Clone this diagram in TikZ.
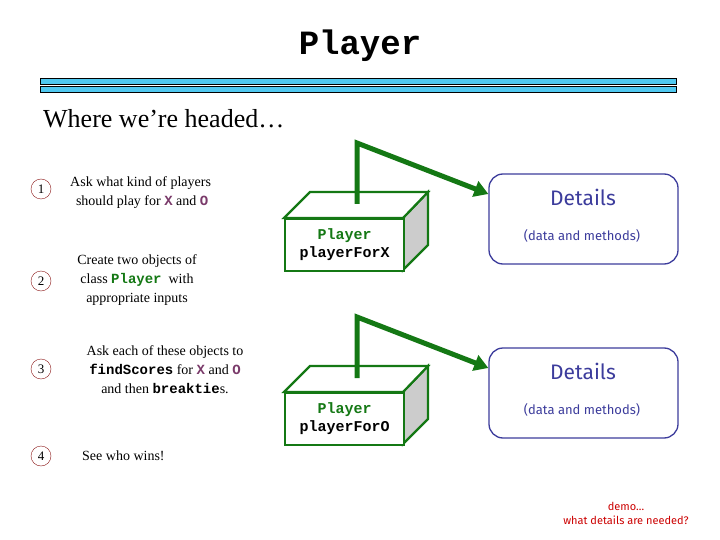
\documentclass[tikz,border=0pt]{standalone}
\usepackage{fontspec}
\setmainfont{Liberation Serif}
\setmonofont{Liberation Mono}
\newfontfamily\comic{Fira Sans}
\usetikzlibrary{arrows.meta}
\definecolor{barc}{HTML}{4FC8F0}
\definecolor{grn}{HTML}{147814}
\definecolor{blu}{HTML}{3C3C9C}
\definecolor{pur}{HTML}{7A3A6A}
\definecolor{circ}{HTML}{8C1818}
\newcommand{\XX}{\textcolor{pur}{\texttt{\textbf{X}}}}
\newcommand{\OO}{\textcolor{pur}{\texttt{\textbf{O}}}}
\tikzset{
 bar/.style={draw=black,fill=barc,line width=0.8pt},
 num/.style={circle,draw=circ,minimum size=20pt,inner sep=0pt,font=\fontsize{13}{13}\selectfont},
 txt/.style={font=\fontsize{14}{19}\selectfont,align=center,inner sep=0pt},
 face/.style={draw=grn,line width=2.2pt,line join=miter},
 link/.style={draw=grn,line width=5pt,-{Triangle[length=14pt,width=16pt]}},
 det/.style={draw=blu,line width=1.3pt,rounded corners=14pt,minimum width=189pt,minimum height=90pt},
}
\begin{document}
\begin{tikzpicture}[x=1pt,y=-1pt]
\useasboundingbox (0,0) rectangle (720,540);
\fill[white] (0,0) rectangle (720,540);
\node (title) at (360,46) {\fontsize{34}{34}\selectfont\ttfamily\bfseries Player};
\draw[bar] (40,78) rectangle (676,84);
\draw[bar] (40,86) rectangle (676,92);
\node[anchor=west,inner sep=0pt] (sub) at (43,119) {\fontsize{26}{26}\selectfont Where we’re headed…};
\node[num] (n1) at (41,189) {1};
\node[num] (n2) at (41,281) {2};
\node[num] (n3) at (41,369) {3};
\node[num] (n4) at (41,456) {4};
\node[txt,align=left,anchor=west] (t1) at (70,193) {Ask what kind of players\\\ \,should play for \XX\ and \OO};
\node[txt] (t2) at (137,280) {Create two objects of\\class \textcolor{grn}{\texttt{\textbf{Player}}} \ with\\appropriate inputs};
\node[txt] (t3) at (165,370) {Ask each of these objects to\\\texttt{\textbf{findScores}} for \XX\ and \OO\\and then \texttt{\textbf{breaktie}}s.};
\node[txt,anchor=west] (t4) at (82,456) {See who wins!};
\foreach \dy/\nm/\lab in {0/A/X,174/B/O}{
 \begin{scope}[yshift=-\dy]
 \filldraw[face,fill=black!20] (403,218) -- (428,192) -- (428,245) -- (403,270) -- cycle;
 \filldraw[face,fill=white] (284,218) -- (310,192) -- (428,192) -- (403,218) -- cycle;
 \node[face,fill=white,minimum width=119pt,minimum height=52pt,inner sep=0pt,anchor=north west,align=center,font=\fontsize{15}{18}\selectfont\ttfamily\bfseries] (box\nm) at (284,218) {\textcolor{grn}{Player}\\playerFor\lab};
 \coordinate (s\nm) at (357,204);
 \coordinate (k\nm) at (357,143);
 \node[det] (d\nm) at (583.5,219) {};
 \node[font=\comic\fontsize{21}{21}\selectfont,text=blu] (dt\nm) at (583,197) {Details};
 \node[font=\comic\fontsize{13}{13}\selectfont,text=blu] (dm\nm) at (582,236) {(data and methods)};
 \draw[link] (s\nm) -- (k\nm) -- ([yshift=-(-25)]d\nm.west);
 \end{scope}
}
\node[align=center,text=red!80!black,font=\comic\fontsize{11}{14}\selectfont,inner sep=0pt] (demo) at (626,513) {demo…\\what details are needed?};
\end{tikzpicture}
\end{document}
